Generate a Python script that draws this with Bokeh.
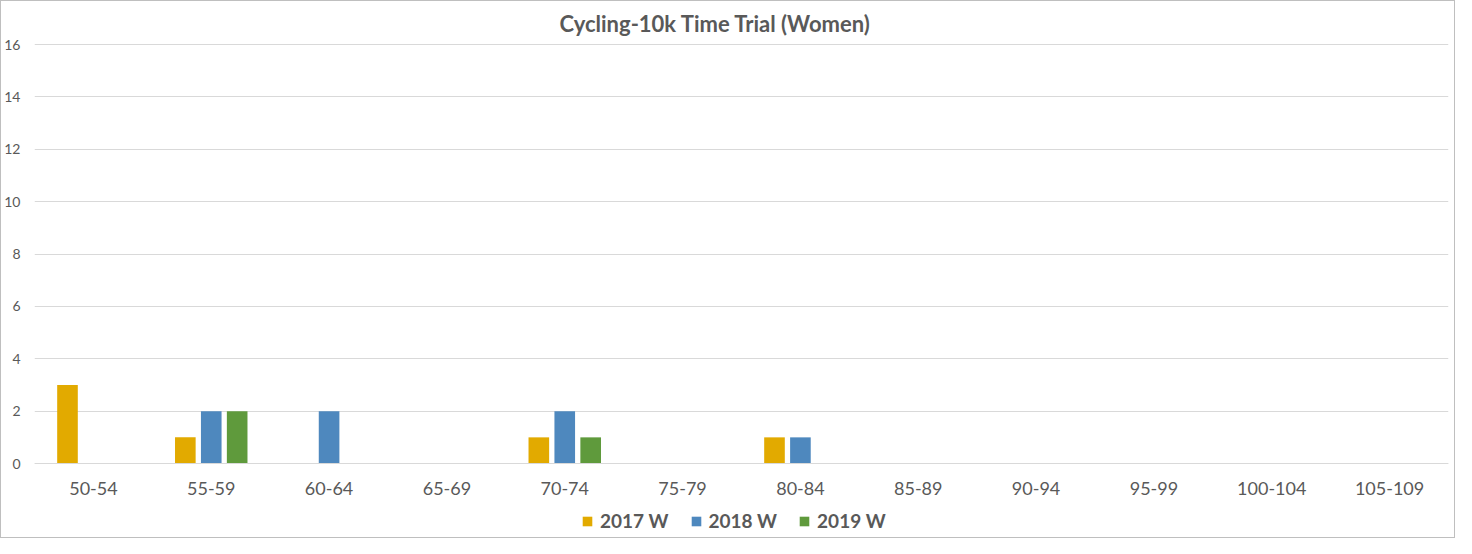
from bokeh.plotting import figure
from bokeh.models import (FactorRange, Range1d, Legend, LegendItem, ColumnDataSource,
                          FixedTicker)
from bokeh.transform import dodge
from bokeh.embed import file_html
from bokeh.resources import INLINE

categories = ["50-54", "55-59", "60-64", "65-69", "70-74", "75-79", "80-84",
              "85-89", "90-94", "95-99", "100-104", "105-109"]
series_names = ["2017 W", "2018 W", "2019 W"]
w2017 = [3, 1, 0, 0, 1, 0, 1, 0, 0, 0, 0, 0]
w2018 = [0, 2, 2, 0, 2, 0, 1, 0, 0, 0, 0, 0]
w2019 = [0, 2, 0, 0, 1, 0, 0, 0, 0, 0, 0, 0]
y_ticks = [0, 2, 4, 6, 8, 10, 12, 14, 16]
colors = ["#E2AA00", "#4E88BE", "#5F9A3C"]

FONT = "Lato"
TXT = "#595959"

src = ColumnDataSource(dict(cat=categories, s2017=w2017, s2018=w2018, s2019=w2019))

# frame extends below zero to host the x labels and legend (axis fixed at y=0)
p = figure(x_range=FactorRange(*categories), y_range=Range1d(-2.824, 16.04),
           frame_width=1414, frame_height=494,
           min_border_left=33, min_border_right=6, min_border_top=42, min_border_bottom=0,
           output_backend="svg", toolbar_location=None,
           title="Cycling-10k Time Trial (Women)")
p.styles = {"border": "1px solid #bfbfbf"}

p.title.align = "left"
p.title.offset = 525
p.title.text_font = FONT
p.title.text_font_size = "22px"
p.title.text_font_style = "bold"
p.title.text_color = TXT
p.title.standoff = 13

fields = ["s2017", "s2018", "s2019"]
offsets = [-0.22, 0.0, 0.22]
renderers = []
for f, off, c in zip(fields, offsets, colors):
    r = p.vbar(x=dodge("cat", off, range=p.x_range), top=f, width=0.175, bottom=0,
               source=src, fill_color=c, line_color=None)
    renderers.append(r)

p.outline_line_color = None
p.xgrid.grid_line_color = None
p.ygrid.ticker = FixedTicker(ticks=y_ticks)
p.ygrid.grid_line_color = "#d9d9d9"
p.ygrid.grid_line_width = 1

p.yaxis.ticker = FixedTicker(ticks=y_ticks)
p.yaxis.axis_line_color = None
p.yaxis.major_tick_line_color = None
p.yaxis.minor_tick_line_color = None
p.yaxis.major_tick_out = 0
p.yaxis.major_label_text_font = FONT
p.yaxis.major_label_text_font_size = "14px"
p.yaxis.major_label_text_color = TXT
p.yaxis.major_label_standoff = 14

p.xaxis.fixed_location = 0
p.xaxis.axis_line_color = "#d9d9d9"
p.xaxis.major_tick_line_color = None
p.xaxis.minor_tick_line_color = None
p.xaxis.major_tick_out = 0
p.xaxis.major_tick_in = 0
p.xaxis.major_label_text_font = FONT
p.xaxis.major_label_text_font_size = "18px"
p.xaxis.major_label_text_color = TXT
p.xaxis.major_label_standoff = 18

legend = Legend(items=[LegendItem(label=n, renderers=[r]) for n, r in zip(series_names, renderers)],
                orientation="horizontal", location=(547, 5))
legend.label_text_font = FONT
legend.label_text_font_size = "19px"
legend.label_text_font_style = "bold"
legend.label_text_color = TXT
legend.glyph_width = 12
legend.glyph_height = 12
legend.label_height = 20
legend.label_standoff = 7
legend.spacing = 21
legend.border_line_color = None
legend.background_fill_alpha = 0
legend.margin = 0
legend.padding = 0
p.add_layout(legend, "center")

open("out.html", "w").write(file_html(p, INLINE))
